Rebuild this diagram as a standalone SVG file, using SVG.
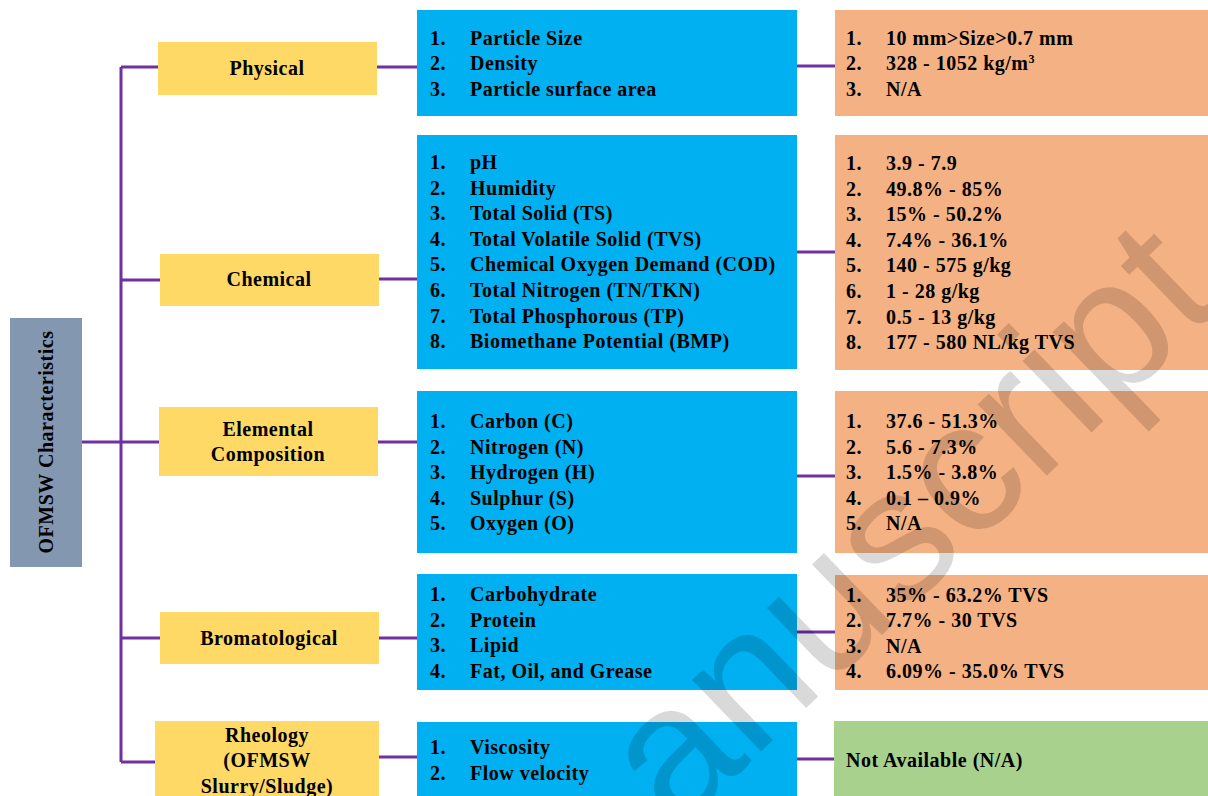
<svg xmlns="http://www.w3.org/2000/svg" width="1208" height="796" viewBox="0 0 1208 796">
<style>
.t{font-family:"Liberation Serif","Times New Roman",serif;font-weight:bold;font-size:20px;letter-spacing:0.5px;fill:#000}
.c{text-anchor:middle}
.cat{fill:#ffd966}
.blue{fill:#00b0f0}
.org{fill:#f4b183}
.grn{fill:#a9d18e}
.ln{stroke:#7030a0;stroke-width:3;fill:none}
.wm{font-family:"Liberation Sans",Arial,sans-serif;font-size:188px;fill:#000;fill-opacity:0.15}
</style>
<defs>
<clipPath id="wmclip"><polygon points="1374,1550 -16,112 1422,-1278 2812,160"/></clipPath>
</defs>
<rect width="1208" height="796" fill="#fff"/>

<g id="connectors" class="ln">
<path d="M121 67 V762"/>
<path d="M82 442 H159"/>
<path d="M121 67 H158"/>
<path d="M121 280 H160"/>
<path d="M121 638 H160"/>
<path d="M121 762 H155"/>
<path d="M377 67 H417"/>
<path d="M379 279 H417"/>
<path d="M378 442 H417"/>
<path d="M379 638 H417"/>
<path d="M379 757 H417"/>
<path d="M797 66 H835"/>
<path d="M797 252 H835"/>
<path d="M797 476 H835"/>
<path d="M797 632 H835"/>
<path d="M797 759 H834"/>
</g>

<g id="root">
<rect x="10" y="318" width="72" height="249" fill="#8497b0"/>
<text class="t c" transform="translate(53,442) rotate(-90)">OFMSW Characteristics</text>
</g>

<g id="physical">
<rect class="cat" x="158" y="42" width="219" height="53"/>
<text class="t c" x="267" y="75">Physical</text>
</g>
<g id="chemical">
<rect class="cat" x="160" y="254" width="219" height="52"/>
<text class="t c" x="269" y="286">Chemical</text>
</g>
<g id="elemental">
<rect class="cat" x="159" y="407" width="219" height="69"/>
<text class="t c" x="268" y="436">Elemental</text>
<text class="t c" x="268" y="461">Composition</text>
</g>
<g id="bromatological">
<rect class="cat" x="160" y="612" width="219" height="52"/>
<text class="t c" x="269" y="645">Bromatological</text>
</g>
<g id="rheology">
<rect class="cat" x="155" y="721" width="224" height="80"/>
<text class="t c" x="267" y="742">Rheology</text>
<text class="t c" x="267" y="767">(OFMSW</text>
<text class="t c" x="267" y="793">Slurry/Sludge)</text>
</g>

<g id="physical-params">
<rect class="blue" x="417" y="10" width="380" height="106"/>
<text class="t" x="430" y="45">1.</text><text class="t" x="470" y="45">Particle Size</text>
<text class="t" x="430" y="70">2.</text><text class="t" x="470" y="70">Density</text>
<text class="t" x="430" y="96">3.</text><text class="t" x="470" y="96">Particle surface area</text>
</g>
<g id="chemical-params">
<rect class="blue" x="417" y="135" width="380" height="234"/>
<text class="t" x="430" y="169">1.</text><text class="t" x="470" y="169">pH</text>
<text class="t" x="430" y="195">2.</text><text class="t" x="470" y="195">Humidity</text>
<text class="t" x="430" y="220">3.</text><text class="t" x="470" y="220">Total Solid (TS)</text>
<text class="t" x="430" y="246">4.</text><text class="t" x="470" y="246">Total Volatile Solid (TVS)</text>
<text class="t" x="430" y="271">5.</text><text class="t" x="470" y="271">Chemical Oxygen Demand (COD)</text>
<text class="t" x="430" y="297">6.</text><text class="t" x="470" y="297">Total Nitrogen (TN/TKN)</text>
<text class="t" x="430" y="323">7.</text><text class="t" x="470" y="323">Total Phosphorous (TP)</text>
<text class="t" x="430" y="348">8.</text><text class="t" x="470" y="348">Biomethane Potential (BMP)</text>
</g>
<g id="elemental-params">
<rect class="blue" x="417" y="391" width="380" height="162"/>
<text class="t" x="430" y="428">1.</text><text class="t" x="470" y="428">Carbon (C)</text>
<text class="t" x="430" y="454">2.</text><text class="t" x="470" y="454">Nitrogen (N)</text>
<text class="t" x="430" y="479">3.</text><text class="t" x="470" y="479">Hydrogen (H)</text>
<text class="t" x="430" y="505">4.</text><text class="t" x="470" y="505">Sulphur (S)</text>
<text class="t" x="430" y="530">5.</text><text class="t" x="470" y="530">Oxygen (O)</text>
</g>
<g id="bromatological-params">
<rect class="blue" x="417" y="574" width="380" height="116"/>
<text class="t" x="430" y="601">1.</text><text class="t" x="470" y="601">Carbohydrate</text>
<text class="t" x="430" y="627">2.</text><text class="t" x="470" y="627">Protein</text>
<text class="t" x="430" y="652">3.</text><text class="t" x="470" y="652">Lipid</text>
<text class="t" x="430" y="678">4.</text><text class="t" x="470" y="678">Fat, Oil, and Grease</text>
</g>
<g id="rheology-params">
<rect class="blue" x="417" y="722" width="380" height="80"/>
<text class="t" x="430" y="754">1.</text><text class="t" x="470" y="754">Viscosity</text>
<text class="t" x="430" y="780">2.</text><text class="t" x="470" y="780">Flow velocity</text>
</g>

<g id="physical-values">
<rect class="org" x="835" y="10" width="373" height="106"/>
<text class="t" x="846" y="45">1.</text><text class="t" x="886" y="45">10 mm&gt;Size&gt;0.7 mm</text>
<text class="t" x="846" y="70">2.</text><text class="t" x="886" y="70">328 - 1052 kg/m<tspan font-size="12" dy="-7">3</tspan></text>
<text class="t" x="846" y="96">3.</text><text class="t" x="886" y="96">N/A</text>
</g>
<g id="chemical-values">
<rect class="org" x="835" y="135" width="373" height="235"/>
<text class="t" x="846" y="170">1.</text><text class="t" x="886" y="170">3.9 - 7.9</text>
<text class="t" x="846" y="196">2.</text><text class="t" x="886" y="196">49.8% - 85%</text>
<text class="t" x="846" y="221">3.</text><text class="t" x="886" y="221">15% - 50.2%</text>
<text class="t" x="846" y="247">4.</text><text class="t" x="886" y="247">7.4% - 36.1%</text>
<text class="t" x="846" y="272">5.</text><text class="t" x="886" y="272">140 - 575 g/kg</text>
<text class="t" x="846" y="298">6.</text><text class="t" x="886" y="298">1 - 28 g/kg</text>
<text class="t" x="846" y="324">7.</text><text class="t" x="886" y="324">0.5 - 13 g/kg</text>
<text class="t" x="846" y="349">8.</text><text class="t" x="886" y="349">177 - 580 NL/kg TVS</text>
</g>
<g id="elemental-values">
<rect class="org" x="835" y="391" width="373" height="162"/>
<text class="t" x="846" y="428">1.</text><text class="t" x="886" y="428">37.6 - 51.3%</text>
<text class="t" x="846" y="454">2.</text><text class="t" x="886" y="454">5.6 - 7.3%</text>
<text class="t" x="846" y="479">3.</text><text class="t" x="886" y="479">1.5% - 3.8%</text>
<text class="t" x="846" y="505">4.</text><text class="t" x="886" y="505">0.1 – 0.9%</text>
<text class="t" x="846" y="530">5.</text><text class="t" x="886" y="530">N/A</text>
</g>
<g id="bromatological-values">
<rect class="org" x="835" y="575" width="373" height="115"/>
<text class="t" x="846" y="602">1.</text><text class="t" x="886" y="602">35% - 63.2% TVS</text>
<text class="t" x="846" y="627">2.</text><text class="t" x="886" y="627">7.7% - 30 TVS</text>
<text class="t" x="846" y="653">3.</text><text class="t" x="886" y="653">N/A</text>
<text class="t" x="846" y="678">4.</text><text class="t" x="886" y="678">6.09% - 35.0% TVS</text>
</g>
<g id="rheology-values">
<rect class="grn" x="834" y="721" width="374" height="80"/>
<text class="t" x="846" y="767">Not Available (N/A)</text>
</g>

<g id="watermark" clip-path="url(#wmclip)">
<text class="wm" transform="translate(564,942) rotate(-44)">Manuscript</text>
</g>
</svg>
